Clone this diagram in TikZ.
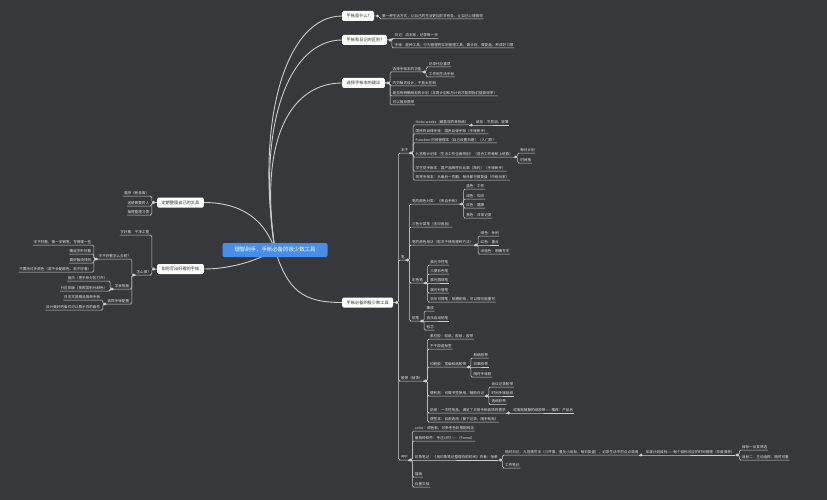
\documentclass[tikz,border=0pt]{standalone}
\usepackage{fontspec}
\newfontfamily\cjk{Noto Sans CJK SC}
\definecolor{canvas}{RGB}{54,56,60}
\definecolor{wire}{RGB}{205,205,205}
\definecolor{leafink}{RGB}{228,228,228}
\definecolor{boxink}{RGB}{45,45,45}
\definecolor{mainblue}{RGB}{72,142,232}
\begin{document}
\begin{tikzpicture}[x=1pt,y=-1pt,
  leaf/.style={font=\cjk\fontsize{3.6}{4.3}\selectfont,text=leafink,inner xsep=0.5,inner ysep=1.4},
  topic/.style={font=\cjk\fontsize{4.2}{5}\selectfont,fill=white,text=boxink,rounded corners=1.5,inner xsep=4.5,inner ysep=0,minimum height=10},
  mainbox/.style={font=\cjk\fontsize{5.4}{6.5}\selectfont,fill=mainblue,text=white,rounded corners=2,inner xsep=12,minimum height=14},
  link/.style={draw=wire,line width=0.5,rounded corners=1.5},
  trunk/.style={draw=wire,line width=0.9},
  knot/.style={fill=wire}]
\fill[canvas] (0,0) rectangle (827,500);

\node[topic,anchor=west] (A) at (342,16) {手帐是什么?};
\node[topic,anchor=west] (B) at (342,40) {手帐和日记的区别?};
\node[topic,anchor=west] (C) at (342,83) {选择手帐本的建议};
\node[topic,anchor=west] (D) at (342,302.5) {手帐必备的极少数工具};
\node[topic,anchor=east] (E) at (204,202.5) {定期整理自己的文具};
\node[topic,anchor=east] (F) at (204,269) {如何写出好看的手帐};

\coordinate (mc) at (275,250);
\draw[trunk] (mc) .. controls (255,120) and (286,16) .. (A.west);
\draw[trunk] (mc) .. controls (256,125) and (289,40) .. (B.west);
\draw[trunk] (mc) .. controls (258,135) and (293,83) .. (C.west);
\draw[trunk] (mc) .. controls (288,290) and (302,302.5) .. (D.west);
\draw[trunk] (mc) .. controls (262,212) and (232,202.5) .. (E.east);
\draw[trunk] (mc) .. controls (255,262) and (228,269) .. (F.east);
\node[mainbox] (M) at (mc) {理智剁手，手帐必备的极少数工具};

% right, top
\coordinate (dA) at ([xshift=3]A.east);
\node[leaf,anchor=south west,xshift=4] (a1) at (dA |- 0,19) {第一种生活方式，让自己的生活更加井井有条，让自己心情愉悦};
\draw[link] (A.east) -- (dA) -- ++(2,0) |- (a1.south west) -- (a1.south east);

\coordinate (dB) at ([xshift=3]B.east);
\foreach \n/\yu/\t in {b1/38.5/{日记：流水账，记录每一天},b2/48/{手帐：是种工具，行为管理的实用管理工具，做计划，做复盘，养成好习惯}} {
  \node[leaf,anchor=south west,xshift=4] (\n) at (dB |- 0,\yu) {\t};
  \draw[link] (B.east) -- (dB) -- ++(2,0) |- (\n.south west) -- (\n.south east);
}

\coordinate (dC) at ([xshift=3]C.east);
\foreach \n/\yu/\t in {c1/72/{选择手帐本的功能},c2/86/{内页版式设计，不能太花哨},c3/96/{是否有明确规划的计划（本周计划和月计划才能帮我们提高效率）},c4/105/{可以随身携带}} {
  \node[leaf,anchor=south west,xshift=4] (\n) at (dC |- 0,\yu) {\t};
  \draw[link] (C.east) -- (dC) -- ++(2,0) |- (\n.south west) -- (\n.south east);
}
\coordinate (dc1) at ([xshift=2]c1.south east);
\foreach \n/\yu/\t in {c11/67/{记录代办事项},c12/77/{工作和生活手帐}} {
  \node[leaf,anchor=south west,xshift=4] (\n) at (dc1 |- 0,\yu) {\t};
  \draw[link] (c1.south east) -- (dc1) -- ++(2,0) |- (\n.south west) -- (\n.south east);
}

% right, tools
\coordinate (dD) at ([xshift=3]D.east);
\foreach \n/\yu/\t in {n1/153/{本子},n2/260/{笔},n3/381/{胶带（装饰）},n4/460/{app}} {
  \node[leaf,anchor=south west,xshift=4] (\n) at (dD |- 0,\yu) {\t};
  \draw[link] (D.east) -- (dD) -- ++(2,0) |- (\n.south west) -- (\n.south east);
}

\coordinate (dn1) at ([xshift=2]n1.south east);
\foreach \n/\yu/\t in {p1/125/{Hobo weeks（最喜欢的单张纸）},p2/134/{国民的自律手帐：国民自律手账（手帐新手）},p3/143/{Function 时间管理本（自己设置日期）（入门款）},p4/157/{九宫格计划本（生活工作全面规划）（适合工作者和上班族）},p5/171/{学生党手帐本：国产品牌性价比高（简约）（手帐新手）},p6/180/{效率手帐本：从最后一页翻，每月都可做复盘（中级玩家）}} {
  \node[leaf,anchor=south west,xshift=4] (\n) at (dn1 |- 0,\yu) {\t};
  \draw[link] (n1.south east) -- (dn1) -- ++(2,0) |- (\n.south west) -- (\n.south east);
}
\coordinate (dp1) at ([xshift=2]p1.south east);
\node[leaf,anchor=south west,xshift=4] (p11) at (dp1) {纸张：不易洇，轻薄};
\draw[link] (p1.south east) -- (p11.south west) -- (p11.south east);
\coordinate (dp4) at ([xshift=2]p4.south east);
\foreach \n/\yu/\t in {p41/153/{每月计划},p42/163/{时间格}} {
  \node[leaf,anchor=south west,xshift=4] (\n) at (dp4 |- 0,\yu) {\t};
  \draw[link] (p4.south east) -- (dp4) -- ++(2,0) |- (\n.south west) -- (\n.south east);
}

\coordinate (dn2) at ([xshift=2]n2.south east);
\foreach \n/\yu/\t in {q1/204/{笔的颜色分类：《来自手帐》},q2/227/{三色分类笔（无印良品）},q3/245/{笔的颜色用法（取决于使用哪种方法）},q4/283/{彩色笔},q5/321/{铅笔}} {
  \node[leaf,anchor=south west,xshift=4] (\n) at (dn2 |- 0,\yu) {\t};
  \draw[link] (n2.south east) -- (dn2) -- ++(2,0) |- (\n.south west) -- (\n.south east);
}
\coordinate (dq1) at ([xshift=2]q1.south east);
\foreach \n/\yu/\t in {q11/189/{蓝色：工作},q12/199/{绿色：知识},q13/208/{红色：健康},q14/218/{黑色：日常记录}} {
  \node[leaf,anchor=south west,xshift=4] (\n) at (dq1 |- 0,\yu) {\t};
  \draw[link] (q1.south east) -- (dq1) -- ++(2,0) |- (\n.south west) -- (\n.south east);
}
\coordinate (dq3) at ([xshift=2]q3.south east);
\foreach \n/\yu/\t in {q31/236/{绿色：休闲},q33/254/{深蓝色：明确写字}} {
  \node[leaf,anchor=south west,xshift=4] (\n) at (dq3 |- 0,\yu) {\t};
  \draw[link] (q3.south east) -- (dq3) -- ++(2,0) |- (\n.south west) -- (\n.south east);
}
\node[leaf,anchor=south west,xshift=4] (q32) at (dq3) {红色：重点};
\draw[link] (q3.south east) -- (q32.south west) -- (q32.south east);
\coordinate (dq4) at ([xshift=2]q4.south east);
\foreach \n/\yu/\t in {q41/265/{晨光中性笔},q42/274/{三菱彩色笔},q44/293/{晨光针管笔},q45/302/{百乐可擦笔，耐磨耐用，可以擦也能重写}} {
  \node[leaf,anchor=south west,xshift=4] (\n) at (dq4 |- 0,\yu) {\t};
  \draw[link] (q4.south east) -- (dq4) -- ++(2,0) |- (\n.south west) -- (\n.south east);
}
\node[leaf,anchor=south west,xshift=4] (q43) at (dq4) {晨光圆珠笔};
\draw[link] (q4.south east) -- (q43.south west) -- (q43.south east);
\coordinate (dq5) at ([xshift=2]q5.south east);
\foreach \n/\yu/\t in {q51/311/{橡皮},q53/330/{铅芯}} {
  \node[leaf,anchor=south west,xshift=4] (\n) at (dq5 |- 0,\yu) {\t};
  \draw[link] (q5.south east) -- (dq5) -- ++(2,0) |- (\n.south west) -- (\n.south east);
}
\node[leaf,anchor=south west,xshift=4] (q52) at (dq5) {百乐自动铅笔};
\draw[link] (q5.south east) -- (q52.south west) -- (q52.south east);

\coordinate (dn3) at ([xshift=2]n3.south east);
\foreach \n/\yu/\t in {r1/339/{素材胶：贴纸、胶纸、胶带},r2/349/{不干胶或标签},r3/367/{印刷胶：宽版和纸胶带},r4/396/{便利贴：可做书签使用，辅助日记},r5/413/{贴纸：一次性用品，满足了日常手帐装饰的需求},r6/422/{便签本：自由选用（撕下记录，随手粘贴）}} {
  \node[leaf,anchor=south west,xshift=4] (\n) at (dn3 |- 0,\yu) {\t};
  \draw[link] (n3.south east) -- (dn3) -- ++(2,0) |- (\n.south west) -- (\n.south east);
}
\coordinate (dr3) at ([xshift=2]r3.south east);
\foreach \n/\yu/\t in {r31/358/{和纸胶带},r33/377/{随时手帐胶}} {
  \node[leaf,anchor=south west,xshift=4] (\n) at (dr3 |- 0,\yu) {\t};
  \draw[link] (r3.south east) -- (dr3) -- ++(2,0) |- (\n.south west) -- (\n.south east);
}
\node[leaf,anchor=south west,xshift=4] (r32) at (dr3) {印章胶带};
\draw[link] (r3.south east) -- (r32.south west) -- (r32.south east);
\coordinate (dr4) at ([xshift=2]r4.south east);
\foreach \n/\yu/\t in {r41/387/{会议记录胶带},r43/404.5/{造纸胶带}} {
  \node[leaf,anchor=south west,xshift=4] (\n) at (dr4 |- 0,\yu) {\t};
  \draw[link] (r4.south east) -- (dr4) -- ++(2,0) |- (\n.south west) -- (\n.south east);
}
\node[leaf,anchor=south west,xshift=4] (r42) at (dr4) {时间手帐贴纸};
\draw[link] (r4.south east) -- (r42.south west) -- (r42.south east);
\coordinate (dr5) at ([xshift=2]r5.south east);
\node[leaf,anchor=south west,xshift=4] (r51) at (dr5) {可随贴随撕的纸胶带——推荐：产品名};
\draw[link] (r5.south east) -- (r51.south west) -- (r51.south east);

\coordinate (dn4) at ([xshift=2]n4.south east);
\foreach \n/\yu/\t in {s1/431/{color：调色板，可参考色彩搭配网站},s2/441/{番茄钟软件：专注计时——（Forest）},s4/477/{插画},s5/487/{石墨文档}} {
  \node[leaf,anchor=south west,xshift=4] (\n) at (dn4 |- 0,\yu) {\t};
  \draw[link] (n4.south east) -- (dn4) -- ++(2,0) |- (\n.south west) -- (\n.south east);
}
\node[leaf,anchor=south west,xshift=4] (s3) at (dn4) {印象笔记：《用印象笔记整理你的时间》作者：张孝};
\draw[link] (n4.south east) -- (s3.south west) -- (s3.south east);
\coordinate (ds3) at ([xshift=2]s3.south east);
\foreach \n/\yu/\t in {s31/455/{随时日记：九宫格写法（三件事，量化小目标，每日复盘），记录生活中的点点滴滴},s32/468/{工作笔记}} {
  \node[leaf,anchor=south west,xshift=4] (\n) at (ds3 |- 0,\yu) {\t};
  \draw[link] (s3.south east) -- (ds3) -- ++(2,0) |- (\n.south west) -- (\n.south east);
}
\coordinate (ds31) at ([xshift=2]s31.south east);
\node[leaf,anchor=south west,xshift=4] (s311) at (ds31) {年度计划目标——每个目标对应的时间管理（年度清单）};
\draw[link] (s31.south east) -- (s311.south west) -- (s311.south east);
\coordinate (ds311) at ([xshift=2]s311.south east);
\foreach \n/\yu/\t in {t1/450/{目标一反复筛选},t2/460/{目标二：主动追踪，随时可看}} {
  \node[leaf,anchor=south west,xshift=4] (\n) at (ds311 |- 0,\yu) {\t};
  \draw[link] (s311.south east) -- (ds311) -- ++(2,0) |- (\n.south west) -- (\n.south east);
}

% left
\coordinate (dE) at ([xshift=-3]E.west);
\foreach \n/\yu/\t in {e1/196/{清除（断舍离）},e2/206/{送给需要的人},e3/215/{抽屉整理习惯}} {
  \node[leaf,anchor=south east,xshift=-4] (\n) at (dE |- 0,\yu) {\t};
  \draw[link] (E.west) -- (dE) -- ++(-2,0) |- (\n.south east) -- (\n.south west);
}

\coordinate (dF) at ([xshift=-3]F.west);
\foreach \n/\yu/\t in {f1/235/{字好看：干净工整},f2/275/{怎么做?}} {
  \node[leaf,anchor=south east,xshift=-4] (\n) at (dF |- 0,\yu) {\t};
  \draw[link] (F.west) -- (dF) -- ++(-2,0) |- (\n.south east) -- (\n.south west);
}
\coordinate (df2) at ([xshift=-2]f2.south west);
\foreach \n/\yu/\t in {g1/259/{字不好看怎么办呢?},g2/289/{学会排版},g3/304/{装饰手帐配置}} {
  \node[leaf,anchor=south east,xshift=-4] (\n) at (df2 |- 0,\yu) {\t};
  \draw[link] (f2.south west) -- (df2) -- ++(-2,0) |- (\n.south east) -- (\n.south west);
}
\coordinate (dg1) at ([xshift=-2]g1.south west);
\foreach \n/\yu/\t in {g11/245/{字不好看，换一支钢笔，写得慢一些},g12/254/{确定字形好看},g13/263/{做好版块排列},g14/272/{不要用过多颜色（若不会配颜色，就不好看）}} {
  \node[leaf,anchor=south east,xshift=-4] (\n) at (dg1 |- 0,\yu) {\t};
  \draw[link] (g1.south west) -- (dg1) -- ++(-2,0) |- (\n.south east) -- (\n.south west);
}
\coordinate (dg2) at ([xshift=-2]g2.south west);
\foreach \n/\yu/\t in {g21/281/{留白（把手帐分区打开）},g22/291/{分区排版（按照类别分颜色）}} {
  \node[leaf,anchor=south east,xshift=-4] (\n) at (dg2 |- 0,\yu) {\t};
  \draw[link] (g2.south west) -- (dg2) -- ++(-2,0) |- (\n.south east) -- (\n.south west);
}
\coordinate (dg3) at ([xshift=-2]g3.south west);
\foreach \n/\yu/\t in {g31/300/{日本文具精品简单手帐},g32/310/{设计美好的版式可以展示你的画作}} {
  \node[leaf,anchor=south east,xshift=-4] (\n) at (dg3 |- 0,\yu) {\t};
  \draw[link] (g3.south west) -- (dg3) -- ++(-2,0) |- (\n.south east) -- (\n.south west);
}

\foreach \k in {dA,dB,dC,dc1,dD,dn1,dn2,dn3,dn4,dp1,dp4,dq1,dq3,dq4,dq5,dr3,dr4,dr5,ds3,ds31,ds311,dE,dF,df2,dg1,dg2,dg3}
  \fill[knot] (\k) circle (1.6);
\end{tikzpicture}
\end{document}
